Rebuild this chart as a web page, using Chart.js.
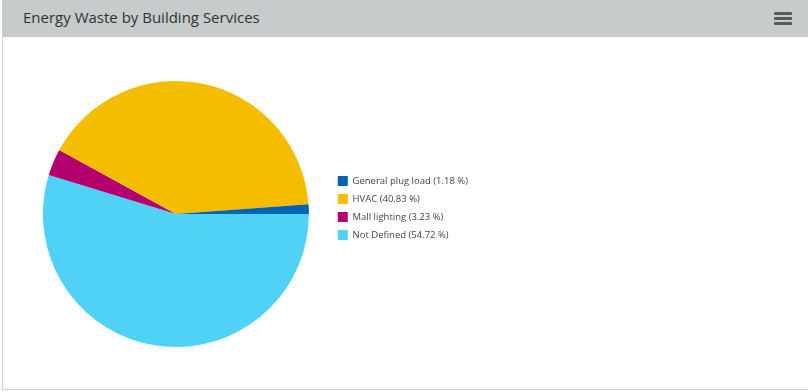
<!DOCTYPE html>
<html>
<head>
<meta charset="utf-8">
<script src="https://cdn.jsdelivr.net/npm/chart.js@4/dist/chart.umd.min.js"></script>
<style>
    html, body { margin: 0; padding: 0; background: #fff; width: 808px; height: 392px; overflow: hidden; }
    .card {
        position: absolute; left: 2px; top: 0; width: 810px; height: 390px;
        border-left: 1px solid #cfcfcf; border-bottom: 1px solid #cfcfcf;
        box-sizing: border-box;
    }
    .card-header {
        position: absolute; left: 0; top: 0; right: 0; height: 37px;
        background: #c6cbcb;
    }
    .card-header h2 {
        margin: 0; position: absolute; left: 20px; top: 7px;
        font: 15px "Open Sans", sans-serif; color: #333; font-weight: 400;
    }
    .menu { position: absolute; left: 771px; top: 12px; width: 18px; }
    .menu span { display: block; height: 3px; background: #5a5a5a; margin-bottom: 2px; border-radius: 1px; }
    .chart-wrap { position: absolute; left: 0; top: 37px; width: 520px; height: 353px; }
</style>
</head>
<body>
<div class="card">
    <div class="card-header">
        <h2>Energy Waste by Building Services</h2>
        <div class="menu"><span></span><span></span><span></span></div>
    </div>
</div>
<div class="chart-wrap"><canvas id="pie"></canvas></div>
<script>
// slice data, in legend order
const categories = ['General plug load', 'HVAC', 'Mall lighting', 'Not Defined'];
const shares = [1.18, 40.83, 3.23, 54.72];
const colors = ['#0063b1', '#f4bd00', '#b4006e', '#50d2f6'];

// the reference draws slices counter-clockwise from 3 o'clock,
// so feed them reversed and flip the legend back
const rev = a => a.slice().reverse();

// legend sits a few px above the pie centre in the reference
const legendNudge = {
    id: 'legendNudge',
    afterLayout(chart) {
        chart.legend.top -= 6;
        chart.legend.bottom -= 6;
    },
};

new Chart(document.getElementById('pie').getContext('2d'), {
    type: 'pie',
    plugins: [legendNudge],
    data: {
        labels: rev(categories),
        datasets: [{
            data: rev(shares),
            backgroundColor: rev(colors),
            borderWidth: 0,
        }],
    },
    options: {
        responsive: true,
        maintainAspectRatio: false,
        animation: false,
        rotation: 90,
        layout: { padding: { left: 22, top: 44, bottom: 43, right: 42 } },
        plugins: {
            tooltip: { enabled: false },
            legend: {
                position: 'right',
                reverse: true,
                labels: {
                    boxWidth: 10,
                    boxHeight: 10,
                    padding: 8,
                    color: '#444',
                    font: { size: 9.5, family: '"Open Sans", sans-serif' },
                    generateLabels(chart) {
                        const ds = chart.data.datasets[0];
                        return chart.data.labels.map((l, i) => ({
                            text: l + ' (' + ds.data[i].toFixed(2) + ' %)',
                            fillStyle: ds.backgroundColor[i],
                            strokeStyle: ds.backgroundColor[i],
                            lineWidth: 0,
                            fontColor: '#444',
                            hidden: false,
                            index: i,
                        }));
                    },
                },
            },
        },
    },
});
</script>
</body>
</html>
